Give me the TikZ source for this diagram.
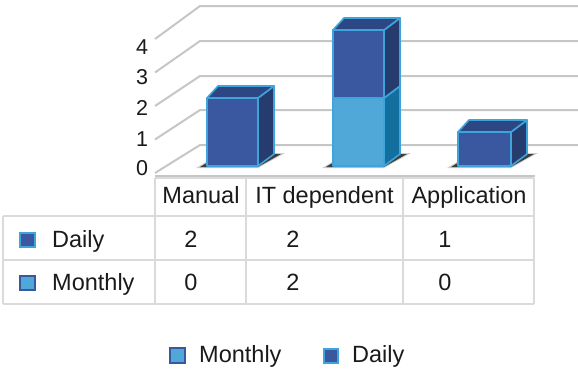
\documentclass[tikz,border=0pt]{standalone}
\usepackage{fontspec}
\setmainfont{Liberation Sans}
\definecolor{gridgray}{HTML}{C6C6C6}
\definecolor{tabgray}{HTML}{DADADA}
\definecolor{edgeblue}{HTML}{3FA4DC}
\definecolor{dailyfront}{HTML}{3A58A0}
\definecolor{dailytop}{HTML}{2D4785}
\definecolor{dailyside}{HTML}{273C6E}
\definecolor{monthfront}{HTML}{4FA8D8}
\definecolor{monthside}{HTML}{13709E}
\definecolor{textcol}{HTML}{1A1A1A}

% cuboid: #1 left, #2 right, #3 bottom y, #4 top y, #5 front fill, #6 side fill
\newcommand\cuboidfaces[6]{%
  \filldraw[edge,fill=#5] (#1,#4) rectangle (#2,#3);
  \filldraw[edge,fill=#6] (#2,#3) -- (#2,#4) -- (#2+16,#4-12) -- (#2+16,#3-12) -- cycle;
}
% lid of a cuboid: #1 left, #2 right, #3 top y, #4 fill
\newcommand\cuboidlid[4]{%
  \filldraw[edge,fill=#4] (#1,#3) -- (#2,#3) -- (#2+16,#3-12) -- (#1+11,#3-12) -- cycle;
}
% soft shadow on the floor: #1 left, #2 right, #3 bottom y
\newcommand\floorshadow[3]{%
  \fill[black,opacity=.2] (#1-11,#3+2) -- (#2,#3+2) -- (#2+27,#3-13) -- (#1+14,#3-13) -- cycle;
  \fill[black,opacity=.7] (#1-7,#3+1) -- (#2,#3+1) -- (#2+23,#3-12) -- (#1+14,#3-12) -- cycle;
}

\begin{document}
\begin{tikzpicture}[x=1pt,y=-1pt,
  grid/.style={draw=gridgray,line width=2pt},
  tab/.style={draw=tabgray,line width=2.2pt},
  edge/.style={draw=edgeblue,line width=1.6pt,line join=round},
  lbl/.style={font=\fontsize{23.5}{28}\selectfont,text=textcol,inner sep=0pt,anchor=base},
  axl/.style={font=\fontsize{21.5}{25}\selectfont,text=textcol,inner sep=0pt},
  keybox/.style={line width=2pt,minimum size=14.5pt,inner sep=0pt},
]
\useasboundingbox (0,0) rectangle (578,372);

% back wall and floor grid
\foreach \v/\yf/\yb in {0/173/145,1/139.5/110,2/106/76,3/72.5/41,4/39/6}{
  \draw[grid] (155,\yf) -- (200,\yb) -- (578,\yb);
}
\draw[grid] (155,175.5) -- (535,175.5);

% value axis labels
\node[axl] (ax0) at (142,168) {0};
\node[axl] (ax1) at (142,139) {1};
\node[axl] (ax2) at (142,108) {2};
\node[axl] (ax3) at (142,77) {3};
\node[axl] (ax4) at (142,47) {4};

% bars
\floorshadow{207}{258}{166}
\floorshadow{333}{384}{166}
\floorshadow{458}{511}{166}

\cuboidfaces{207}{258}{166}{98}{dailyfront}{dailyside}
\cuboidlid{207}{258}{98}{dailytop}

\cuboidfaces{333}{384}{166}{98}{monthfront}{monthside}
\cuboidfaces{333}{384}{98}{30}{dailyfront}{dailyside}
\cuboidlid{333}{384}{30}{dailytop}

\cuboidfaces{458}{511}{166}{132}{dailyfront}{dailyside}
\cuboidlid{458}{511}{132}{dailytop}

% data table
\draw[tab] (155,178) -- (534,178);
\draw[tab] (3,216) -- (534,216);
\draw[tab] (3,260) -- (534,260);
\draw[tab] (3,304) -- (534,304);
\draw[tab] (3,216) -- (3,304);
\foreach \x in {155,246,403,534}{ \draw[tab] (\x,178) -- (\x,304); }

\node[lbl] (hman) at (201,203) {Manual};
\node[lbl] (hit) at (324.5,203) {IT dependent};
\node[lbl] (happ) at (469,203) {Application};

\node[keybox,draw=edgeblue,fill=dailyfront] (kd) at (27.5,240) {};
\node[lbl,anchor=base west] (rd) at (52,247) {Daily};
\node[keybox,draw=dailyfront,fill=monthfront] (km) at (27.5,283) {};
\node[lbl,anchor=base west] (rm) at (52,290) {Monthly};

\node[lbl] (d1) at (191,247) {2};
\node[lbl] (d2) at (293,247) {2};
\node[lbl] (d3) at (445,247) {1};
\node[lbl] (m1) at (191,290) {0};
\node[lbl] (m2) at (293,290) {2};
\node[lbl] (m3) at (445,290) {0};

% legend
\node[keybox,draw=dailyfront,fill=monthfront] (lm) at (177.5,355.5) {};
\node[lbl,anchor=base west] (lmt) at (199,362) {Monthly};
\node[keybox,draw=edgeblue,fill=dailyfront] (ld) at (331,356) {};
\node[lbl,anchor=base west] (ldt) at (352,362) {Daily};
\end{tikzpicture}
\end{document}
